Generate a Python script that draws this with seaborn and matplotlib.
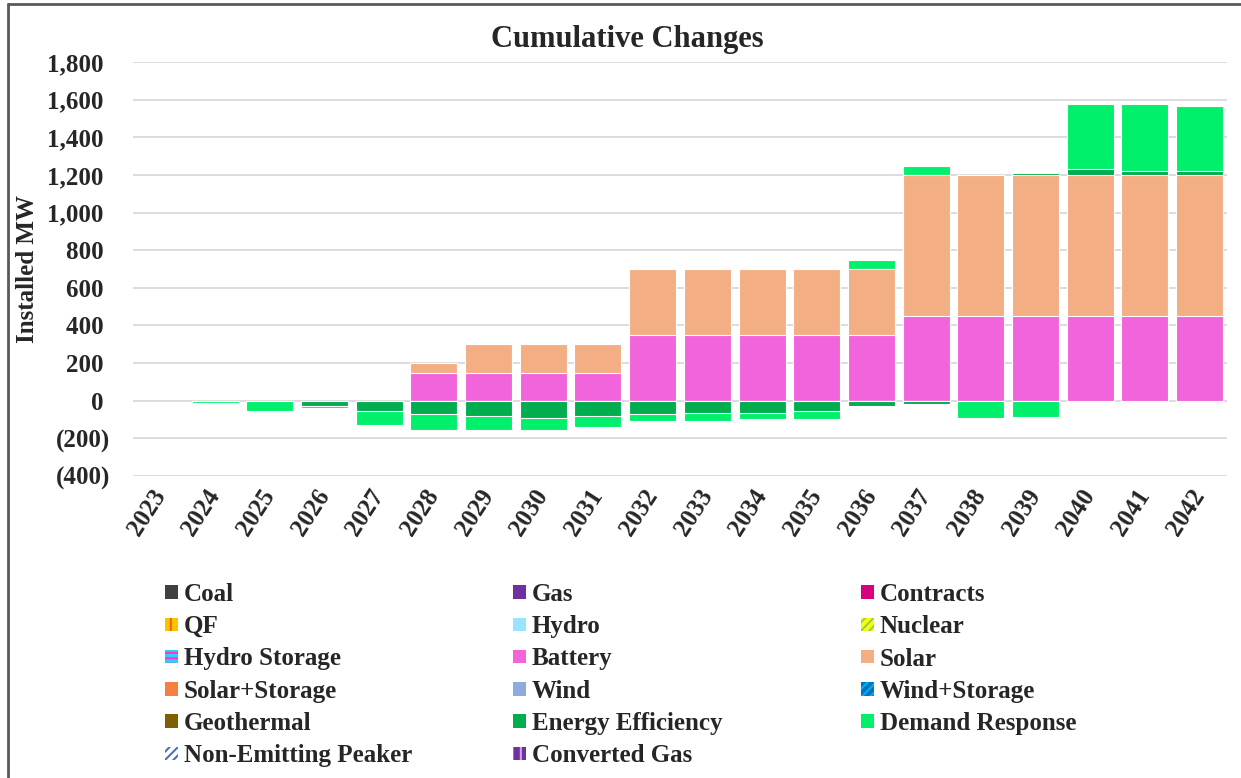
import numpy as np
import matplotlib
matplotlib.use("Agg")
import matplotlib.pyplot as plt
import matplotlib.patches as mpatches
from matplotlib.lines import Line2D
import seaborn as sns

# ---------------- data ----------------
years = [str(y) for y in range(2023, 2043)]
battery = [0, 0, 0, 0, 0, 150, 150, 150, 150, 350, 350, 350, 350, 350, 450, 450, 450, 450, 450, 450]
solar = [0, 0, 0, 0, 0, 50, 150, 150, 150, 350, 350, 350, 350, 350, 750, 750, 750, 750, 750, 750]
energy_efficiency = [0, 0, 0, -30, -56, -70, -81, -90, -79, -70, -64, -64, -55, -30, -20, 0, 10, 30, 20, 20]
demand_response = [0, -12, -55, -7, -74, -87, -76, -67, -62, -36, -42, -33, -42, 50, 45, -90, -85, 345, 355, 347]

legend_names = ["Coal", "Gas", "Contracts",
                "QF", "Hydro", "Nuclear",
                "Hydro Storage", "Battery", "Solar",
                "Solar+Storage", "Wind", "Wind+Storage",
                "Geothermal", "Energy Efficiency", "Demand Response",
                "Non-Emitting Peaker", "Converted Gas"]

title = "Cumulative Changes"
ylabel = "Installed MW"
yticks = list(range(-400, 1801, 200))

# ---------------- styles ----------------
styles = {
    "Coal": dict(facecolor="#404040"),
    "Gas": dict(facecolor="#7030A0"),
    "Contracts": dict(facecolor="#D9007E"),
    "QF": dict(facecolor="#FFC000", edgecolor="#E46C0A", hatch="||"),
    "Hydro": dict(facecolor="#99E3FF"),
    "Nuclear": dict(facecolor="#FFFF00", edgecolor="#92D050", hatch="////"),
    "Hydro Storage": dict(facecolor="#33CCFF", edgecolor="#FF33CC", hatch="---"),
    "Battery": dict(facecolor="#F264DC"),
    "Solar": dict(facecolor="#F4AE84"),
    "Solar+Storage": dict(facecolor="#F47F3E"),
    "Wind": dict(facecolor="#8FAADC"),
    "Wind+Storage": dict(facecolor="#0070C0", edgecolor="#00B0F0", hatch="////"),
    "Geothermal": dict(facecolor="#7F6000"),
    "Energy Efficiency": dict(facecolor="#00AD4F"),
    "Demand Response": dict(facecolor="#00F06C"),
    "Non-Emitting Peaker": dict(facecolor="white", edgecolor="#4472C4", hatch="////"),
    "Converted Gas": dict(facecolor="#7030A0", edgecolor="#C9A8F0", hatch="||"),
}

sns.set_style("white")
plt.rcParams["font.family"] = ["Liberation Serif", "DejaVu Serif"]
plt.rcParams["font.weight"] = "bold"
plt.rcParams["hatch.linewidth"] = 1.5

W, H = 1241, 778
fig = plt.figure(figsize=(W / 100, H / 100), dpi=100)
ax = fig.add_axes([133 / W, 1 - 476 / H, (1227 - 133) / W, (476 - 62) / H])

bar_w = 0.86
edge_kw = dict(edgecolor="white", linewidth=0.8)

# positive stack (bottom -> top)
pos_layers = [("Battery", battery), ("Solar", solar),
              ("Energy Efficiency", energy_efficiency), ("Demand Response", demand_response)]
pos_vals = np.array([np.clip(np.array(v, float), 0, None) for _, v in pos_layers])
pos_cum = np.cumsum(pos_vals, axis=0)
for i in reversed(range(len(pos_layers))):
    name = pos_layers[i][0]
    sns.barplot(x=years, y=pos_cum[i], order=years, color=styles[name]["facecolor"],
                saturation=1, width=bar_w, errorbar=None, ax=ax, **edge_kw)

# negative stack (zero -> down)
neg_layers = [("Energy Efficiency", energy_efficiency), ("Demand Response", demand_response)]
neg_vals = np.array([np.clip(np.array(v, float), None, 0) for _, v in neg_layers])
neg_cum = np.cumsum(neg_vals, axis=0)
for i in reversed(range(len(neg_layers))):
    name = neg_layers[i][0]
    sns.barplot(x=years, y=neg_cum[i], order=years, color=styles[name]["facecolor"],
                saturation=1, width=bar_w, errorbar=None, ax=ax, **edge_kw)

# hide outlines of zero-height bars
for p in ax.patches:
    if abs(p.get_height()) < 1e-9:
        p.set_visible(False)

ax.set_xlim(-0.5, len(years) - 0.5)
ax.set_ylim(-400, 1800)
ax.set_yticks(yticks)
ax.set_yticklabels([f"({abs(t):,})" if t < 0 else f"{t:,} " for t in yticks],
                   fontsize=18, fontweight="bold")
ax.grid(axis="y", color="#D9D9D9", linewidth=1.3)
ax.grid(axis="x", visible=False)
ax.set_axisbelow(True)
for s in ax.spines.values():
    s.set_visible(False)
ax.tick_params(axis="y", length=0, pad=23 * 0.72)
ax.tick_params(axis="x", length=0, pad=11)
ax.set_xlabel("")
ax.set_xticks(range(len(years)))
ax.set_xticklabels(years, fontsize=18, fontweight="bold")
for lbl in ax.get_xticklabels():
    lbl.set_rotation(57)
    lbl.set_ha("right")
    lbl.set_va("center")
    lbl.set_rotation_mode("anchor")

ax.set_ylabel(ylabel, fontsize=18, fontweight="bold")
ax.yaxis.set_label_coords((39 - 133) / (1227 - 133), 0.5)

fig.text(627 / W, 1 - 40 / H, title, ha="center", va="center", fontsize=22, fontweight="bold")

# legend (three columns, row-major order in the reference)
def make_handle(name):
    st = dict(styles[name])
    st.setdefault("edgecolor", st["facecolor"])
    return mpatches.Patch(linewidth=0, **st)

col_x = [165, 513, 861]
for c in range(3):
    names = legend_names[c::3]
    handles = [make_handle(n) for n in names]
    fig.legend(handles, names, loc="upper left",
               bbox_to_anchor=(col_x[c] / W, 1 - 583 / H),
               frameon=False, prop=dict(weight="bold", size=18),
               handlelength=0.5, handleheight=0.45, handletextpad=0.25,
               labelspacing=0.37, borderpad=0, borderaxespad=0)

# partial frame (left + top)
fig.add_artist(Line2D([8 / W, 8 / W], [0, 1 - 4 / H], transform=fig.transFigure,
                      color="#595959", linewidth=2))
fig.add_artist(Line2D([8 / W, 1], [1 - 4 / H, 1 - 4 / H], transform=fig.transFigure,
                      color="#595959", linewidth=2))

fig.savefig("out.png", dpi=100)
